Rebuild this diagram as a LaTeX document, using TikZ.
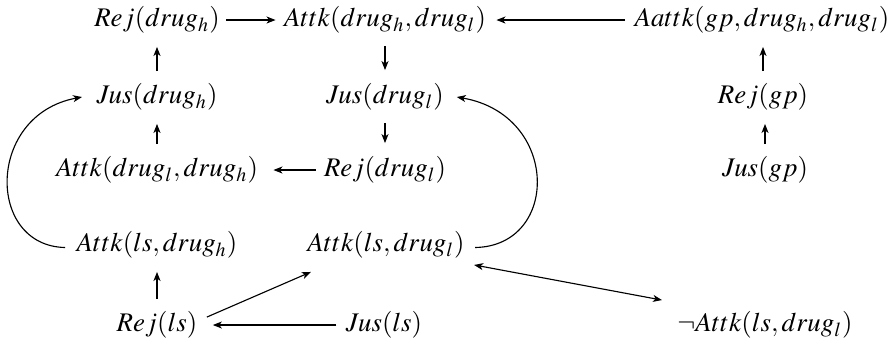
\documentclass[tikz,border=0pt]{standalone}
\usepackage{mathptmx}
\usetikzlibrary{arrows.meta}
\begin{document}
\begin{tikzpicture}[x=0.4pt,y=-0.4pt,
  lbl/.style={inner sep=0pt,font=\fontsize{10.75}{13}\selectfont},
  arr/.style={-{Stealth[length=3.6pt,width=2.8pt,inset=1pt]},line width=0.45pt},
  darr/.style={{Stealth[length=3.6pt,width=2.8pt,inset=1pt]}-{Stealth[length=3.6pt,width=2.8pt,inset=1pt]},line width=0.45pt},
  vt/.style={arr,shorten <=4.8pt,shorten >=5.2pt}]
\useasboundingbox (0,0) rectangle (891,343);
\node[lbl] (rdh)  at (157,20)  {$Rej(drug_h)$};
\node[lbl] (adhl) at (385,20)  {$Attk(drug_h,drug_l)$};
\node[lbl] (aa)   at (762,20)  {$Aattk(gp,drug_h,drug_l)$};
\node[lbl] (jdh)  at (157,97)  {$Jus(drug_h)$};
\node[lbl] (jdl)  at (385,97)  {$Jus(drug_l)$};
\node[lbl] (rgp)  at (763,97)  {$Rej(gp)$};
\node[lbl] (adlh) at (157,170) {$Attk(drug_l,drug_h)$};
\node[lbl] (rdl)  at (385,170) {$Rej(drug_l)$};
\node[lbl] (jgp)  at (765,170) {$Jus(gp)$};
\node[lbl] (alsh) at (157,245) {$Attk(ls,drug_h)$};
\node[lbl] (alsl) at (386,245) {$Attk(ls,drug_l)$};
\node[lbl] (rls)  at (157,325) {$Rej(ls)$};
\node[lbl] (jls)  at (384,325) {$Jus(ls)$};
\node[lbl] (nals) at (765,325) {$\neg Attk(ls,drug_l)$};
% horizontal
\draw[arr,shorten <=2.4pt,shorten >=3.2pt] (rdh.east) -- (adhl.west |- rdh.east);
\draw[arr,shorten <=3.6pt,shorten >=4pt] (aa.west) -- (adhl.east |- aa.west);
\draw[arr,shorten <=3.2pt,shorten >=6pt] (rdl.west) -- (adlh.east |- rdl.west);
\draw[arr,shorten <=3.6pt,shorten >=6pt] (jls.west) -- (rls.east |- jls.west);
% vertical
\draw[vt] (adhl.south) -- (jdl.north);
\draw[vt] (jdl.south) -- (rdl.north);
\draw[vt] (jdh.north) -- (rdh.south);
\draw[vt] (adlh.north) -- (adlh.north |- jdh.south);
\draw[vt] (rgp.north) -- (rgp.north |- aa.south);
\draw[vt] (jgp.north) -- (jgp.north |- rgp.south);
\draw[vt] (rls.north) -- (rls.north |- alsh.south);
% diagonals
\draw[arr] ([shift={(9,6)}]rls.north east) -- ([shift={(4,13)}]alsl.south west);
\draw[darr] ([shift={(9,6)}]alsl.south east) -- ([shift={(-15,-11)}]nals.north west);
% curves
\draw[arr] ([xshift=-4.4pt,yshift=-1pt]alsh.west) .. controls (-14,246) and (-14,115) .. ([xshift=-5.6pt]jdh.west);
\draw[arr] ([xshift=4pt,yshift=-1pt]alsl.east) .. controls (560,246) and (560,115) .. ([xshift=5pt]jdl.east);
\end{tikzpicture}
\end{document}
